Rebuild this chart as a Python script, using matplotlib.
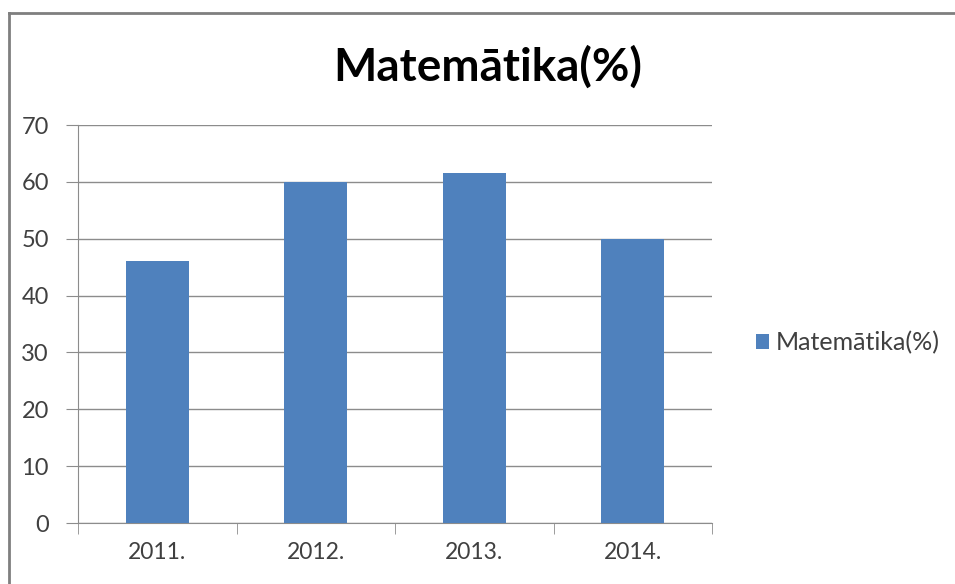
import numpy as np
import matplotlib.pyplot as plt
from matplotlib.lines import Line2D

# data
years = ['2011.', '2012.', '2013.', '2014.']
values = [46.1, 60.0, 61.6, 49.9]
series_name = 'Matemātika(%)'

plt.rcParams['font.family'] = ['Lato', 'DejaVu Sans']

fig = plt.figure(figsize=(9.55, 5.84), dpi=100)
ax = fig.add_axes([78 / 955, 61 / 584, 634 / 955, 398 / 584])

x = np.arange(len(years))
ax.bar(x, values, width=0.4, color='#4F81BD', label=series_name, zorder=3)

ax.set_xlim(-0.5, len(years) - 0.5)
ax.set_ylim(0, 70)
ax.set_yticks(np.arange(0, 71, 10))
ax.yaxis.grid(True, color='#8c8c8c', linewidth=1.0, zorder=0)

# category labels centred, ticks on category boundaries
ax.set_xticks(x)
ax.set_xticklabels(years)
ax.set_xticks(np.arange(-0.5, len(years), 1), minor=True)
ax.tick_params(axis='x', which='major', length=0, pad=14, labelsize=16.5, labelcolor='#404040')
ax.tick_params(axis='x', which='minor', length=8, color='#8c8c8c', direction='out')
ax.tick_params(axis='y', length=9, color='#8c8c8c', pad=12, labelsize=17, labelcolor='#404040')

for s in ['top', 'right']:
    ax.spines[s].set_visible(False)
for s in ['left', 'bottom']:
    ax.spines[s].set_color('#8c8c8c')

fig.text(488 / 955, 1 - 67 / 584, series_name, ha='center', va='center',
         fontsize=33, fontweight='bold', color='black')

ax.legend(loc='center left', bbox_to_anchor=(733 / 955, 1 - 343 / 584),
          bbox_transform=fig.transFigure, frameon=False, fontsize=18,
          handlelength=0.55, handleheight=0.55, handletextpad=0.25,
          labelcolor='#404040')

# outer chart border (top and left edges only are visible)
top = 1 - 13 / 584
left = 9 / 955
fig.add_artist(Line2D([left, 1], [top, top], transform=fig.transFigure,
                      color='#7f7f7f', linewidth=2))
fig.add_artist(Line2D([left, left], [0, top], transform=fig.transFigure,
                      color='#7f7f7f', linewidth=2))

fig.savefig('out.png', dpi=100)
